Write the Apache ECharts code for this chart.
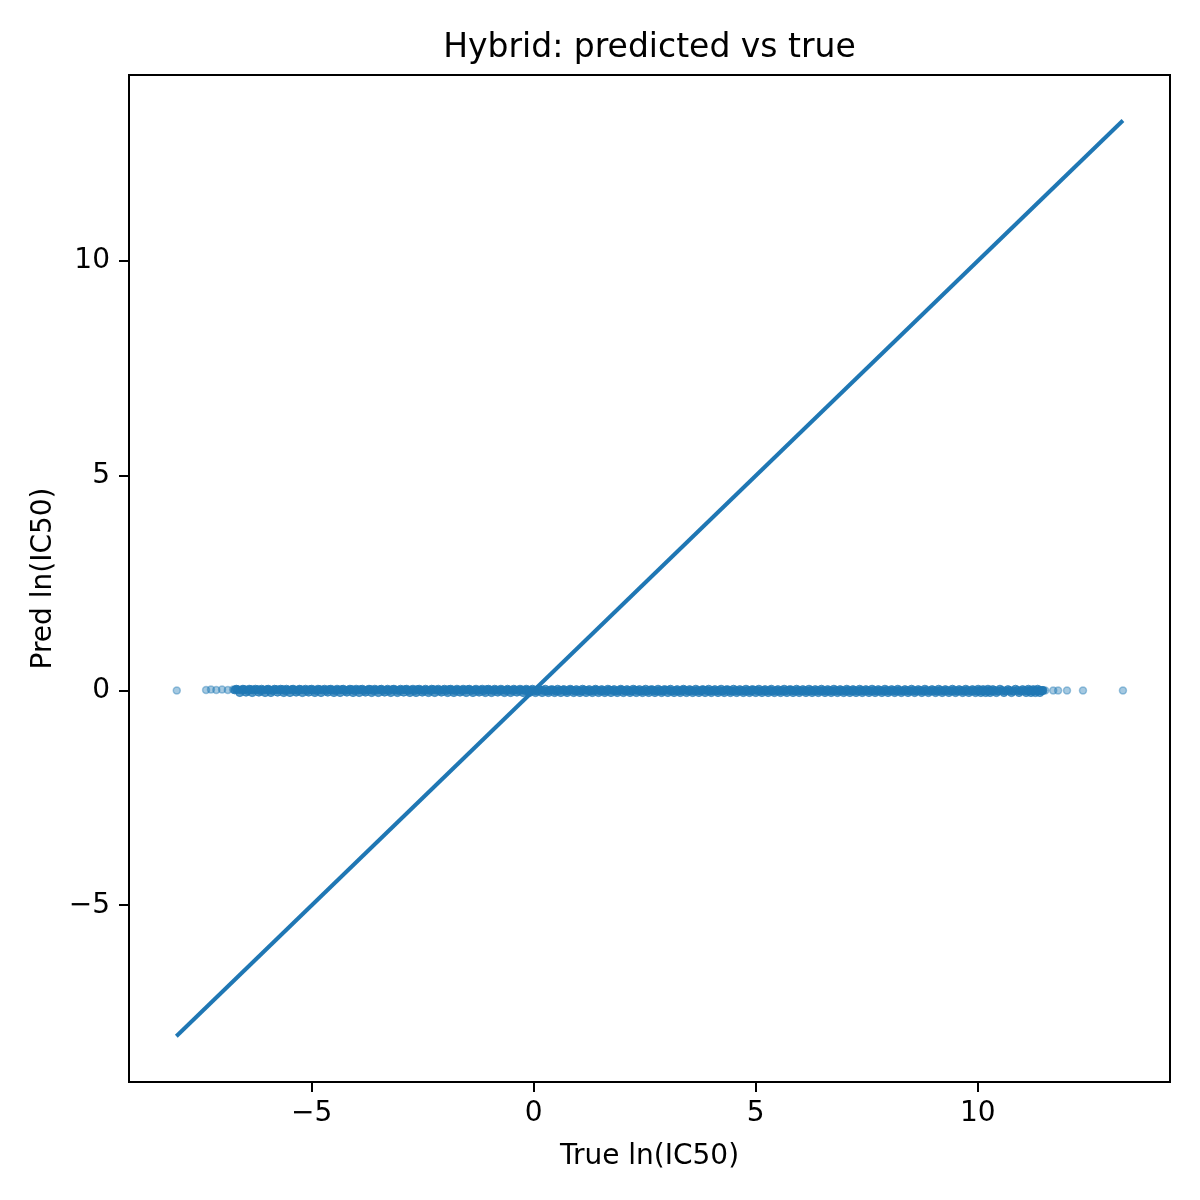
<!DOCTYPE html>
<html>
<head>
<meta charset="utf-8">
<script src="https://cdn.jsdelivr.net/npm/echarts@6/dist/echarts.min.js"></script>
<style>html,body{margin:0;padding:0;background:#fff}#c{width:1200px;height:1200px}</style>
</head>
<body>
<div id="c"></div>
<script>
const titleText = 'Hybrid: predicted vs true';
const xName = 'True ln(IC50)';
const yName = 'Pred ln(IC50)';
const xTicks = [-5, 0, 5, 10];
const yTicks = [-5, 0, 5, 10];
const axisMin = -9.116;
const axisMax = 14.33;

// [true, predicted]
const leftOutliers = [[-8.04,0.0],[-7.38,0.01],[-7.27,0.02],[-7.15,0.01],[-7.02,0.02],[-6.89,0.01],[-6.77,0.02]];
const denseBand = [
[-6.73,0.01],[-6.67,0.02],[-6.58,0.01],[-6.52,0.02],[-6.44,0.0],[-6.37,0.02],[-6.31,0.01],[-6.22,0.02],[-6.16,0.0],[-6.09,0.01],
[-6.01,0.02],[-5.95,0.01],[-5.88,0.0],[-5.8,0.02],[-5.74,0.01],[-5.66,0.02],[-5.6,0.0],[-5.53,0.01],[-5.45,0.02],[-5.39,0.01],
[-5.31,0.0],[-5.25,0.02],[-5.17,0.01],[-5.1,0.0],[-5.04,0.02],[-4.96,0.01],[-4.89,0.0],[-4.82,0.02],[-4.75,0.01],[-4.67,0.0],
[-4.61,0.02],[-4.53,0.01],[-4.47,0.0],[-4.39,0.01],[-4.32,0.02],[-4.25,0.0],[-4.18,0.01],[-4.1,0.02],[-4.04,0.0],[-3.96,0.01],
[-3.9,0.02],[-3.82,0.0],[-3.75,0.01],[-3.68,0.02],[-3.61,0.0],[-3.54,0.01],[-3.46,0.02],[-3.4,0.0],[-3.32,0.01],[-3.26,0.0],
[-3.18,0.02],[-3.11,0.01],[-3.04,0.0],[-2.97,0.01],[-2.9,0.02],[-2.83,0.0],[-2.76,0.01],[-2.68,0.0],[-2.62,0.02],[-2.54,0.01],
[-2.48,0.0],[-2.4,0.01],[-2.33,0.0],[-2.26,0.02],[-2.19,0.01],[-2.12,0.0],[-2.05,0.01],[-1.97,0.0],[-1.91,0.02],[-1.83,0.01],
[-1.77,0.0],[-1.69,0.01],[-1.62,0.0],[-1.55,0.01],[-1.48,0.02],[-1.41,0.0],[-1.34,0.01],[-1.26,0.0],[-1.2,0.01],[-1.12,0.0],
[-1.06,0.02],[-0.98,0.01],[-0.91,0.0],[-0.84,0.01],[-0.77,0.0],[-0.7,0.01],[-0.62,0.0],[-0.56,0.01],[-0.48,0.0],[-0.42,0.01],
[-0.34,0.0],[-0.27,0.01],[-0.2,0.0],[-0.13,0.01],[-0.06,0.0],
[0.01,0.0],[0.08,-0.01],[0.15,0.01],[0.22,0.0],[0.3,-0.01],[0.36,0.0],[0.44,0.01],[0.5,-0.01],[0.58,0.0],[0.65,0.01],
[0.72,-0.01],[0.79,0.0],[0.86,0.01],[0.93,-0.01],[1.0,0.0],[1.07,-0.01],[1.14,0.01],[1.21,0.0],[1.28,-0.01],[1.36,0.0],
[1.42,0.01],[1.5,-0.01],[1.56,0.0],[1.64,-0.01],[1.71,0.01],[1.78,0.0],[1.85,-0.01],[1.92,0.0],[1.99,0.01],[2.06,-0.01],
[2.13,0.0],[2.2,-0.01],[2.28,0.01],[2.34,0.0],[2.42,-0.01],[2.48,0.0],[2.56,-0.01],[2.62,0.01],[2.7,0.0],[2.77,-0.01],
[2.84,0.0],[2.91,-0.01],[2.98,0.01],[3.05,0.0],[3.12,-0.01],[3.2,0.0],[3.26,-0.01],[3.34,0.0],[3.4,0.01],[3.48,-0.01],
[3.54,0.0],[3.62,-0.01],[3.69,0.0],[3.76,-0.01],[3.83,0.01],[3.9,0.0],[3.97,-0.01],[4.04,0.0],[4.11,-0.01],[4.18,0.0],
[4.26,-0.01],[4.32,0.01],[4.4,0.0],[4.46,-0.01],[4.54,0.0],[4.61,-0.01],[4.68,0.0],[4.75,-0.01],[4.82,0.0],[4.89,-0.01],
[4.96,0.01],[5.03,0.0],[5.1,-0.01],[5.18,0.0],[5.24,-0.01],[5.32,0.0],[5.38,-0.01],[5.46,0.0],[5.53,-0.01],[5.6,0.0],
[5.67,-0.01],[5.74,0.01],[5.81,0.0],[5.88,-0.01],[5.95,0.0],[6.02,-0.01],[6.1,0.0],[6.16,-0.01],[6.24,0.0],[6.3,-0.01],
[6.38,0.0],[6.45,-0.01],[6.52,0.0],[6.59,-0.01],[6.66,0.0],[6.73,-0.01],[6.8,0.0],[6.87,-0.01],[6.94,0.0],[7.02,-0.01],
[7.08,0.0],[7.16,-0.01],[7.22,0.0],[7.3,-0.01],[7.37,0.0],[7.44,-0.01],[7.51,0.0],[7.58,-0.01],[7.66,0.0],[7.73,-0.01],
[7.8,0.0],[7.88,-0.01],[7.95,0.0],[8.02,-0.01],[8.1,0.0],[8.17,-0.01],[8.24,0.0],[8.32,-0.01],[8.4,0.0],[8.47,-0.01],
[8.55,0.0],[8.62,-0.01],[8.7,0.0],[8.78,-0.01],[8.85,0.0],[8.93,-0.01],[9.01,0.0],[9.08,-0.01],[9.16,0.0],[9.24,-0.01],
[9.31,0.0],[9.39,-0.01],[9.46,0.0],[9.54,-0.01],[9.62,0.0],[9.69,-0.01],[9.76,0.0],[9.84,-0.01],[9.91,0.0],[9.98,-0.01],
[10.04,0.0],[10.1,-0.01],[10.15,0.0],[10.2,-0.01],[10.26,0.0],[10.31,-0.01],[10.38,0.0],[10.46,-0.01],[10.55,0.0],[10.63,-0.01],
[10.72,0.0],[10.8,-0.01],[10.89,0.0],[10.97,-0.01],[11.05,0.0],[11.12,-0.01],[11.17,0.0],[11.22,-0.01],[11.27,0.0],[11.32,-0.01],
[11.38,0.0],[11.43,-0.01],[11.47,0.0]
];
const denseBand2 = [
[-6.7,0.03],[-6.62,-0.05],[-6.55,0.03],[-6.48,-0.04],[-6.41,0.03],[-6.34,-0.05],[-6.27,0.03],[-6.19,-0.04],[-6.13,0.03],[-6.05,-0.05],
[-5.98,0.03],[-5.92,-0.05],[-5.84,0.03],[-5.77,-0.04],[-5.7,0.03],[-5.63,-0.05],[-5.57,0.03],[-5.49,-0.05],[-5.42,0.03],[-5.35,-0.04],
[-5.28,0.03],[-5.21,-0.05],[-5.14,0.03],[-5.07,-0.04],[-5.0,0.03],[-4.93,-0.05],[-4.86,0.03],[-4.79,-0.05],[-4.71,0.03],[-4.64,-0.04],
[-4.57,0.03],[-4.5,-0.05],[-4.43,0.03],[-4.36,-0.05],[-4.29,0.03],[-4.21,-0.04],[-4.14,0.03],[-4.07,-0.05],[-4.0,0.03],[-3.93,-0.05],
[-3.86,0.03],[-3.79,-0.04],[-3.71,0.03],[-3.65,-0.05],[-3.58,0.03],[-3.5,-0.05],[-3.43,0.03],[-3.36,-0.04],[-3.29,0.03],[-3.22,-0.05],
[-3.15,0.03],[-3.07,-0.05],[-3.0,0.03],[-2.93,-0.04],[-2.86,0.03],[-2.79,-0.05],[-2.72,0.03],[-2.65,-0.05],[-2.58,0.03],[-2.51,-0.04],
[-2.44,0.03],[-2.37,-0.05],[-2.3,0.03],[-2.23,-0.05],[-2.15,0.03],[-2.08,-0.04],[-2.01,0.03],[-1.94,-0.05],[-1.87,0.03],[-1.8,-0.05],
[-1.73,0.03],[-1.66,-0.04],[-1.59,0.03],[-1.52,-0.05],[-1.45,0.03],[-1.37,-0.05],[-1.3,0.03],[-1.23,-0.04],[-1.16,0.03],[-1.09,-0.05],
[-1.02,0.03],[-0.95,-0.05],[-0.88,0.03],[-0.81,-0.04],[-0.74,0.03],[-0.66,-0.05],[-0.59,0.03],[-0.52,-0.05],[-0.45,0.03],[-0.38,-0.04],
[-0.31,0.03],[-0.24,-0.05],[-0.17,0.03],[-0.1,-0.05],[-0.03,0.03],
[0.04,-0.05],[0.11,0.03],[0.19,-0.05],[0.26,0.03],[0.33,-0.05],[0.4,0.02],[0.47,-0.05],[0.54,0.03],[0.61,-0.05],[0.68,0.02],
[0.75,-0.05],[0.82,0.03],[0.9,-0.05],[0.96,0.02],[1.04,-0.05],[1.1,0.03],[1.18,-0.05],[1.25,0.02],[1.32,-0.05],[1.39,0.03],
[1.46,-0.05],[1.53,0.02],[1.6,-0.05],[1.67,0.03],[1.74,-0.05],[1.81,0.02],[1.88,-0.05],[1.96,0.03],[2.02,-0.05],[2.1,0.02],
[2.17,-0.05],[2.24,0.03],[2.31,-0.05],[2.38,0.02],[2.45,-0.05],[2.52,0.03],[2.59,-0.05],[2.66,0.02],[2.73,-0.05],[2.8,0.03],
[2.88,-0.05],[2.94,0.02],[3.02,-0.05],[3.08,0.03],[3.16,-0.05],[3.23,0.02],[3.3,-0.05],[3.37,0.03],[3.44,-0.05],[3.51,0.02],
[3.58,-0.05],[3.65,0.03],[3.72,-0.05],[3.8,0.02],[3.86,-0.05],[3.94,0.03],[4.0,-0.05],[4.08,0.02],[4.15,-0.05],[4.22,0.03],
[4.29,-0.05],[4.36,0.02],[4.43,-0.05],[4.5,0.03],[4.57,-0.05],[4.64,0.02],[4.72,-0.05],[4.78,0.03],[4.86,-0.05],[4.92,0.02],
[5.0,-0.05],[5.07,0.03],[5.14,-0.05],[5.21,0.02],[5.28,-0.05],[5.35,0.03],[5.42,-0.05],[5.5,0.02],[5.56,-0.05],[5.64,0.03],
[5.7,-0.05],[5.78,0.02],[5.84,-0.05],[5.92,0.03],[5.98,-0.05],[6.06,0.02],[6.13,-0.05],[6.2,0.03],[6.27,-0.05],[6.34,0.02],
[6.41,-0.05],[6.48,0.03],[6.56,-0.05],[6.62,0.02],[6.7,-0.05],[6.76,0.03],[6.84,-0.05],[6.9,0.02],[6.98,-0.05],[7.05,0.03],
[7.12,-0.05],[7.19,0.02],[7.26,-0.05],[7.34,0.03],[7.4,-0.05],[7.48,0.02],[7.55,-0.05],[7.62,0.03],[7.69,-0.05],[7.76,0.02],
[7.84,-0.05],[7.91,0.03],[7.98,-0.05],[8.06,0.02],[8.13,-0.05],[8.2,0.03],[8.28,-0.05],[8.36,0.02],[8.43,-0.05],[8.51,0.03],
[8.58,-0.05],[8.66,0.02],[8.74,-0.05],[8.81,0.03],[8.89,-0.05],[8.97,0.02],[9.05,-0.05],[9.12,0.03],[9.2,-0.05],[9.27,0.02],
[9.35,-0.05],[9.43,0.03],[9.5,-0.05],[9.58,0.02],[9.66,-0.05],[9.73,0.03],[9.8,-0.05],[9.88,0.02],[9.95,-0.05],[10.01,0.03],
[10.07,-0.05],[10.12,0.02],[10.18,-0.05],[10.23,0.03],[10.28,-0.05],[10.34,0.02],[10.42,-0.05],[10.5,0.03],[10.59,-0.05],[10.68,0.02],
[10.76,-0.05],[10.85,0.03],[10.93,-0.05],[11.01,0.02],[11.09,-0.05],[11.14,0.03],[11.2,-0.05],[11.25,0.02],[11.3,-0.05],[11.35,0.03],
[11.4,-0.05],[11.45,0.0]
];
const rightOutliers = [[11.52,0.0],[11.7,0.0],[11.81,0.0],[12.01,0.0],[12.37,0.0],[13.27,0.0]];
const identityLine = [[-8.05,-8.05],[13.27,13.27]];

const FONT = 'DejaVu Sans';
const fmt = v => String(v).replace('-', '\u2212');
const chart = echarts.init(document.getElementById('c'), null, {renderer: 'canvas'});
const markerStyle = {color: 'rgba(31,119,180,0.5)', borderColor: 'rgba(31,119,180,0.5)', borderWidth: 1.5};
const denseStyle = {color: 'rgba(31,119,180,0.95)', borderColor: 'rgba(31,119,180,0.95)', borderWidth: 1};
chart.setOption({
  animation: false,
  backgroundColor: '#ffffff',
  title: {
    text: titleText, left: 649.5, top: 32, textAlign: 'center', padding: 0,
    textStyle: {fontFamily: FONT, fontSize: 33, fontWeight: 'normal', color: '#000'}
  },
  grid: {left: 129, right: 30, top: 75, bottom: 118, show: true, borderColor: '#000', borderWidth: 2, backgroundColor: 'transparent'},
  xAxis: {
    type: 'value', min: axisMin, max: axisMax,
    name: xName, nameLocation: 'middle', nameGap: 61,
    nameTextStyle: {fontFamily: FONT, fontSize: 28, color: '#000'},
    axisLine: {show: true, onZero: false, lineStyle: {color: '#000', width: 2}},
    axisTick: {show: true, length: 10, lineStyle: {color: '#000', width: 2}, customValues: xTicks},
    axisLabel: {fontFamily: FONT, fontSize: 28, color: '#000', margin: 18, customValues: xTicks, formatter: fmt},
    splitLine: {show: false}
  },
  yAxis: {
    type: 'value', min: axisMin, max: axisMax,
    name: yName, nameLocation: 'middle', nameGap: 69,
    nameTextStyle: {fontFamily: FONT, fontSize: 28, color: '#000'},
    axisLine: {show: true, onZero: false, lineStyle: {color: '#000', width: 2}},
    axisTick: {show: true, length: 10, lineStyle: {color: '#000', width: 2}, customValues: yTicks},
    axisLabel: {fontFamily: FONT, fontSize: 28, color: '#000', margin: 19, customValues: yTicks, formatter: fmt},
    splitLine: {show: false}
  },
  series: [
    {type: 'scatter', data: leftOutliers.concat(rightOutliers), symbol: 'circle', symbolSize: 7, itemStyle: markerStyle, silent: true},
    {type: 'scatter', data: denseBand.concat(denseBand2), symbol: 'circle', symbolSize: 8, itemStyle: denseStyle, silent: true},
    {type: 'line', data: identityLine, symbol: 'none', lineStyle: {color: '#1f77b4', width: 4}, silent: true}
  ]
});
</script>
</body>
</html>
